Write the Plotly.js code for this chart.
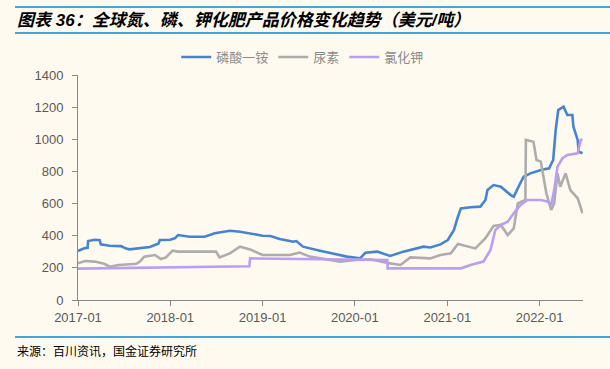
<!DOCTYPE html>
<html>
<head>
<meta charset="utf-8">
<script src="https://cdn.plot.ly/plotly-3.0.1.min.js"></script>
<style>
html,body{margin:0;padding:0;background:#fefaf0;}
#chart{width:610px;height:369px;}
</style>
</head>
<body>
<div id="chart"></div>
<script>
// ---- data ----
const seriesNames = ["磷酸一铵", "尿素", "氯化钾"];

const mapDates = ["2017-01-01","2017-01-28","2017-02-08","2017-02-10","2017-03-08","2017-03-28","2017-04-01","2017-05-06","2017-06-20","2017-07-10","2017-07-24","2017-09-03","2017-10-12","2017-11-01","2017-11-15","2017-11-21","2018-01-01","2018-01-20","2018-02-01","2018-03-18","2018-05-17","2018-06-26","2018-08-25","2018-10-04","2018-12-02","2019-01-01","2019-02-01","2019-03-10","2019-04-19","2019-05-01","2019-05-15","2019-06-01","2019-06-10","2019-08-16","2019-12-01","2020-01-22","2020-02-12","2020-03-30","2020-05-20","2020-07-11","2020-09-29","2020-10-26","2020-12-05","2021-01-03","2021-01-27","2021-02-12","2021-02-24","2021-04-03","2021-05-12","2021-06-01","2021-06-09","2021-07-03","2021-08-01","2021-09-09","2021-09-21","2021-10-10","2021-10-30","2021-11-26","2022-01-06","2022-02-08","2022-02-24","2022-03-06","2022-03-16","2022-04-06","2022-04-21","2022-05-11","2022-05-15","2022-06-01","2022-06-05","2022-06-20"];
const mapValues = [305,323,325,367,375,372,346,338,335,320,315,325,330,342,350,373,375,385,404,394,394,415,431,425,409,400,398,380,367,363,367,345,332,307,270,259,294,301,274,301,332,327,346,373,435,518,570,577,581,622,684,715,705,653,643,705,767,788,809,819,871,1058,1182,1203,1151,1151,1078,996,923,913];

const ureaDates = ["2017-01-01","2017-01-28","2017-03-08","2017-04-15","2017-05-06","2017-06-10","2017-07-24","2017-08-20","2017-09-03","2017-09-20","2017-11-01","2017-11-25","2017-12-15","2018-01-10","2018-02-01","2018-05-17","2018-07-01","2018-07-15","2018-08-25","2018-10-04","2018-11-13","2018-12-02","2019-01-01","2019-04-19","2019-05-28","2019-07-07","2019-11-04","2020-01-04","2020-03-01","2020-05-20","2020-06-30","2020-08-08","2020-10-26","2020-12-05","2021-01-15","2021-02-12","2021-03-22","2021-04-22","2021-06-01","2021-07-03","2021-08-01","2021-08-28","2021-09-21","2021-10-07","2021-11-06","2021-11-08","2021-12-08","2021-12-20","2022-01-06","2022-01-28","2022-02-16","2022-02-28","2022-03-13","2022-03-24","2022-04-14","2022-05-03","2022-06-01","2022-06-20"];
const ureaValues = [228,243,239,225,207,218,222,225,239,270,280,255,265,307,301,301,301,265,290,332,315,301,280,280,295,270,239,249,253,228,218,265,259,280,290,348,332,321,384,460,467,404,446,601,622,996,985,871,861,664,560,601,788,705,788,684,633,540];

const potashDates = ["2017-01-01","2018-01-01","2018-11-10","2018-11-13","2019-12-01","2020-05-09","2020-05-10","2021-02-24","2021-04-03","2021-05-24","2021-06-21","2021-07-10","2021-08-01","2021-08-28","2021-09-21","2021-10-18","2021-11-14","2022-01-06","2022-02-04","2022-02-16","2022-02-28","2022-03-13","2022-04-02","2022-04-21","2022-06-01","2022-06-13","2022-06-20"];
const potashValues = [195,205,210,259,255,249,197,197,218,239,311,435,467,487,540,591,622,622,612,591,684,830,882,902,913,996,1000];

const xTickVals = ["2017-01-01","2018-01-01","2019-01-01","2020-01-01","2021-01-01","2022-01-01"];
const xTickText = ["2017-01","2018-01","2019-01","2020-01","2021-01","2022-01"];
const yTickVals = [0,200,400,600,800,1000,1200,1400];

const titleText = "图表 36：全球氮、磷、钾化肥产品价格变化趋势（美元/吨）";
const sourceText = "来源：百川资讯，国金证券研究所";

// ---- chart ----
const colors = ["#4584d3", "#adadad", "#bb9ef2"];
const fontFam = "Liberation Sans, Arial, Noto Sans CJK SC, sans-serif";
const cjk = "Noto Sans CJK SC, sans-serif";

const traces = [
  {x: mapDates, y: mapValues, name: seriesNames[0]},
  {x: ureaDates, y: ureaValues, name: seriesNames[1]},
  {x: potashDates, y: potashValues, name: seriesNames[2]}
].map((t, i) => Object.assign(t, {
  type: "scatter", mode: "lines",
  line: {color: colors[i], width: 2.6, shape: "linear"},
  hoverinfo: "skip"
}));

const W = 610, H = 369, L = 78, R = 27, T = 75, B = 69;
const pw = W - L - R, ph = H - T - B;
const px = v => (v - L) / pw;
const py = v => (H - B - v) / ph;

const layout = {
  width: W, height: H,
  paper_bgcolor: "#fefaf0", plot_bgcolor: "#fefaf0",
  margin: {l: L, r: R, t: T, b: B},
  font: {family: fontFam, size: 13, color: "#595959"},
  title: {
    text: titleText, xref: "container", yref: "container",
    x: 17 / W, xanchor: "left", y: 1 - 20 / H, yanchor: "middle",
    font: {family: "Liberation Sans, Noto Sans CJK SC, sans-serif", size: 17, color: "#000", weight: "bold", style: "italic"}
  },
  showlegend: true,
  legend: {
    orientation: "h", x: 0.445, xanchor: "center", y: py(57), yanchor: "middle",
    font: {family: cjk, size: 13, color: "#8a8a8a"},
    bgcolor: "rgba(0,0,0,0)", itemwidth: 30, tracegroupgap: 0
  },
  xaxis: {
    type: "date", range: ["2017-01-01", "2022-06-22"],
    tickmode: "array", tickvals: xTickVals, ticktext: xTickText,
    ticks: "outside", ticklen: 5, tickcolor: "#888", tickwidth: 1,
    showline: true, linecolor: "#888", linewidth: 1,
    showgrid: false, zeroline: false,
    tickfont: {family: fontFam, size: 13, color: "#595959"}
  },
  yaxis: {
    range: [0, 1400], tickmode: "array", tickvals: yTickVals,
    ticks: "outside", ticklen: 5, tickcolor: "#888", tickwidth: 1,
    showline: true, linecolor: "#888", linewidth: 1,
    showgrid: false, zeroline: false, ticklabelstandoff: 6,
    tickfont: {family: fontFam, size: 13, color: "#595959"}
  },
  shapes: [
    {type: "line", xref: "paper", yref: "paper", x0: px(15), x1: px(610), y0: py(7), y1: py(7), line: {color: "#41a8dc", width: 2}},
    {type: "line", xref: "paper", yref: "paper", x0: px(15), x1: px(610), y0: py(33), y1: py(33), line: {color: "#41a8dc", width: 2}},
    {type: "line", xref: "paper", yref: "paper", x0: px(15), x1: px(610), y0: py(337), y1: py(337), line: {color: "#41a8dc", width: 2}}
  ],
  annotations: [
    {text: sourceText, xref: "paper", yref: "paper", x: px(15), xanchor: "left", y: py(350), yanchor: "middle",
     showarrow: false, font: {family: cjk, size: 12, color: "#000"}}
  ]
};

Plotly.newPlot("chart", traces, layout, {displayModeBar: false, staticPlot: true});
</script>
</body>
</html>
